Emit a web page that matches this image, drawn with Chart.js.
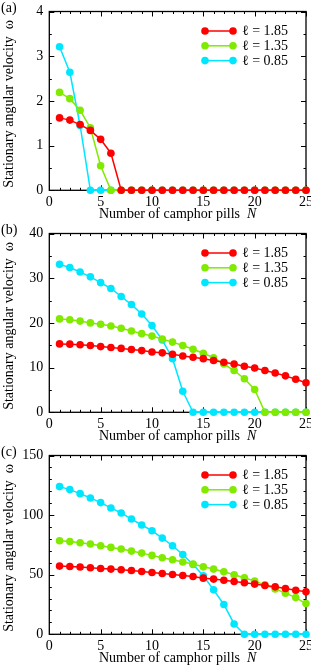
<!DOCTYPE html>
<html>
<head>
<meta charset="utf-8">
<script src="https://cdn.jsdelivr.net/npm/chart.js@4.4.1/dist/chart.umd.min.js"></script>
<style>
  html, body { margin: 0; padding: 0; background: #fff; }
  .panel { width: 311px; height: 222px; }
  canvas { display: block; }
</style>
</head>
<body>
<div class="panel"><canvas id="chartA" width="311" height="222"></canvas></div>
<div class="panel"><canvas id="chartB" width="311" height="222"></canvas></div>
<div class="panel"><canvas id="chartC" width="311" height="222"></canvas></div>
<script>
'use strict';

// number of camphor pills N
const pills = [1, 2, 3, 4, 5, 6, 7, 8, 9, 10, 11, 12, 13, 14, 15, 16, 17, 18, 19, 20, 21, 22, 23, 24, 25];
const xTicks = [0, 5, 10, 15, 20, 25];
const legendLabels = ['ℓ = 1.85', 'ℓ = 1.35', 'ℓ = 0.85'];
const lineColors = ['#ff0000', '#80ea00', '#00e6ff'];

// (a)
const yTicksA = [0, 1, 2, 3, 4];
const omegaA185 = [1.62, 1.57, 1.47, 1.34, 1.14, 0.83, 0, 0, 0, 0, 0, 0, 0, 0, 0, 0, 0, 0, 0, 0, 0, 0, 0, 0, 0];
const omegaA135 = [2.19, 2.05, 1.79, 1.40, 0.55, 0, 0, 0, 0, 0, 0, 0, 0, 0, 0, 0, 0, 0, 0, 0, 0, 0, 0, 0, 0];
const omegaA085 = [3.21, 2.64, 1.45, 0, 0, 0, 0, 0, 0, 0, 0, 0, 0, 0, 0, 0, 0, 0, 0, 0, 0, 0, 0, 0, 0];

// (b)
const yTicksB = [0, 10, 20, 30, 40];
const omegaB185 = [15.3, 15.25, 15.1, 14.95, 14.7, 14.5, 14.3, 14.05, 13.8, 13.5, 13.3, 13.0, 12.6, 12.3, 12.0, 11.6, 11.2, 10.8, 10.3, 9.9, 9.35, 8.8, 8.15, 7.4, 6.6];
const omegaB135 = [20.9, 20.7, 20.4, 20.0, 19.7, 19.3, 18.8, 18.2, 17.6, 17.05, 16.4, 15.7, 14.95, 14.1, 13.2, 12.2, 10.8, 9.35, 7.5, 5.1, 0, 0, 0, 0, 0];
const omegaB085 = [33.1, 32.4, 31.4, 30.3, 29.0, 27.7, 25.9, 24.1, 22.0, 19.4, 16.2, 12.0, 4.7, 0, 0, 0, 0, 0, 0, 0, 0, 0, 0, 0, 0];

// (c)
const yTicksC = [0, 50, 100, 150];
const omegaC185 = [57.2, 56.9, 56.4, 55.8, 55.2, 54.7, 54.1, 53.5, 52.7, 51.9, 51.0, 50.2, 49.3, 48.5, 47.1, 46.3, 45.4, 44.3, 43.2, 42.1, 40.9, 39.8, 38.4, 37.0, 35.6];
const omegaC135 = [78.5, 77.9, 76.8, 75.7, 74.3, 72.9, 71.5, 69.8, 68.1, 66.2, 64.2, 62.5, 60.6, 58.9, 56.6, 54.7, 52.4, 49.9, 47.4, 44.6, 41.5, 38.1, 34.5, 30.8, 25.8];
const omegaC085 = [123.9, 121.4, 118.0, 114.4, 110.5, 106.0, 101.8, 96.7, 91.7, 86.9, 80.7, 74.3, 67.0, 58.5, 49.1, 37.3, 25.0, 8.7, 0, 0, 0, 0, 0, 0, 0];

const FONT = '"Liberation Serif", "Times New Roman", serif';

// box with inward ticks on all four sides
function drawFrame(chart, opts) {
  const {ctx, chartArea: a} = chart;
  const x = chart.scales.x;
  const y = chart.scales.y;
  ctx.save();
  ctx.strokeStyle = '#000';
  ctx.lineWidth = 1;
  ctx.beginPath();
  for (let v = 0; v <= 25; v++) {
    const px = Math.round(x.getPixelForValue(v)) + 0.5;
    const len = v % 5 === 0 ? 5 : 2.5;
    ctx.moveTo(px, a.bottom); ctx.lineTo(px, a.bottom - len);
    ctx.moveTo(px, a.top); ctx.lineTo(px, a.top + len);
  }
  const steps = Math.round(opts.yMax / opts.yMinor);
  const per = Math.round(opts.yMajor / opts.yMinor);
  for (let i = 0; i <= steps; i++) {
    const py = Math.round(y.getPixelForValue(i * opts.yMinor)) + 0.5;
    const len = i % per === 0 ? 5 : 2.5;
    ctx.moveTo(a.left, py); ctx.lineTo(a.left + len, py);
    ctx.moveTo(a.right, py); ctx.lineTo(a.right - len, py);
  }
  ctx.stroke();
  ctx.lineWidth = 1.3;
  ctx.strokeRect(a.left, a.top, a.right - a.left, a.bottom - a.top);
  ctx.restore();
}

const frameTicks = {
  id: 'frameTicks',
  beforeDatasetsDraw(chart) {
    try {
      drawFrame(chart, chart.config.options.frameSpec);
    } catch (err) {
      chart.ctx.fillStyle = '#000';
      chart.ctx.fillText(String(err), 60, 100);
    }
  }
};

// titles, panel letter and the legend
const labelsAndLegend = {
  id: 'labelsAndLegend',
  afterDraw(chart) {
    const {ctx, chartArea: a} = chart;
    const panel = chart.config.options.frameSpec.panel;
    ctx.save();
    ctx.fillStyle = '#000';
    ctx.textBaseline = 'middle';

    ctx.font = '14px ' + FONT;
    ctx.textAlign = 'left';
    ctx.fillText(panel, 1, 8);

    // y title
    ctx.save();
    ctx.translate(9, (a.top + a.bottom) / 2 + 3);
    ctx.rotate(-Math.PI / 2);
    ctx.textAlign = 'center';
    ctx.fillText('Stationary angular velocity  ω', 0, 0);
    ctx.restore();

    // x title, N in italics
    const part1 = 'Number of camphor pills  ';
    const w1 = ctx.measureText(part1).width;
    ctx.font = 'italic 14px ' + FONT;
    const w2 = ctx.measureText('N').width;
    const tx = (a.left + a.right) / 2 - (w1 + w2) / 2;
    const ty = a.bottom + 24;
    ctx.font = '14px ' + FONT;
    ctx.fillText(part1, tx, ty);
    ctx.font = 'italic 14px ' + FONT;
    ctx.fillText('N', tx + w1, ty);

    // legend
    ctx.font = '14px ' + FONT;
    legendLabels.forEach(function(text, i) {
      const ly = a.top + 19.5 + i * 14.8;
      ctx.strokeStyle = lineColors[i];
      ctx.fillStyle = lineColors[i];
      ctx.lineWidth = 1.5;
      ctx.beginPath();
      ctx.moveTo(205, ly); ctx.lineTo(233, ly);
      ctx.stroke();
      for (const cx of [205, 233]) {
        ctx.beginPath();
        ctx.arc(cx, ly, 3.8, 0, Math.PI * 2);
        ctx.fill();
      }
      ctx.fillStyle = '#000';
      ctx.fillText(text, 242, ly + 0.5);
    });
    ctx.restore();
  }
};

function makePanel(canvasId, panel, yTicks, yMinor, series) {
  const yMax = yTicks[yTicks.length - 1];
  const yMajor = yTicks[1] - yTicks[0];
  const datasets = series.map(function(values, i) {
    return {
      data: pills.map((n, k) => ({x: n, y: values[k]})),
      borderColor: lineColors[i],
      backgroundColor: lineColors[i],
      borderWidth: 1.5,
      pointRadius: 3.8,
      pointBorderWidth: 0,
      pointHoverRadius: 3.8,
      tension: 0,
      clip: false
    };
  });

  new Chart(document.getElementById(canvasId), {
    type: 'line',
    data: {datasets: datasets},
    plugins: [frameTicks, labelsAndLegend],
    options: {
      responsive: false,
      animation: false,
      events: [],
      frameSpec: {panel: panel, yMax: yMax, yMajor: yMajor, yMinor: yMinor},
      layout: {padding: {top: 11.5, right: 5, left: 0, bottom: 0}},
      plugins: {
        legend: {display: false},
        tooltip: {enabled: false}
      },
      scales: {
        x: {
          type: 'linear',
          min: xTicks[0],
          max: xTicks[xTicks.length - 1],
          grid: {display: false, drawTicks: false},
          border: {display: false},
          afterBuildTicks(scale) { scale.ticks = xTicks.map(v => ({value: v})); },
          afterFit(scale) { scale.height = 31.7; scale.paddingLeft = 0; scale.paddingRight = 0; },
          ticks: {
            color: '#000',
            padding: 4,
            maxRotation: 0,
            font: {family: FONT, size: 14}
          }
        },
        y: {
          type: 'linear',
          min: 0,
          max: yMax,
          grid: {display: false, drawTicks: false},
          border: {display: false},
          afterBuildTicks(scale) { scale.ticks = yTicks.map(v => ({value: v})); },
          afterFit(scale) { scale.width = 49.3; scale.paddingTop = 0; scale.paddingBottom = 0; },
          ticks: {
            color: '#000',
            padding: 6,
            font: {family: FONT, size: 14}
          }
        }
      }
    }
  });
}

makePanel('chartA', '(a)', yTicksA, 0.5, [omegaA185, omegaA135, omegaA085]);
makePanel('chartB', '(b)', yTicksB, 5, [omegaB185, omegaB135, omegaB085]);
makePanel('chartC', '(c)', yTicksC, 10, [omegaC185, omegaC135, omegaC085]);
</script>
</body>
</html>
